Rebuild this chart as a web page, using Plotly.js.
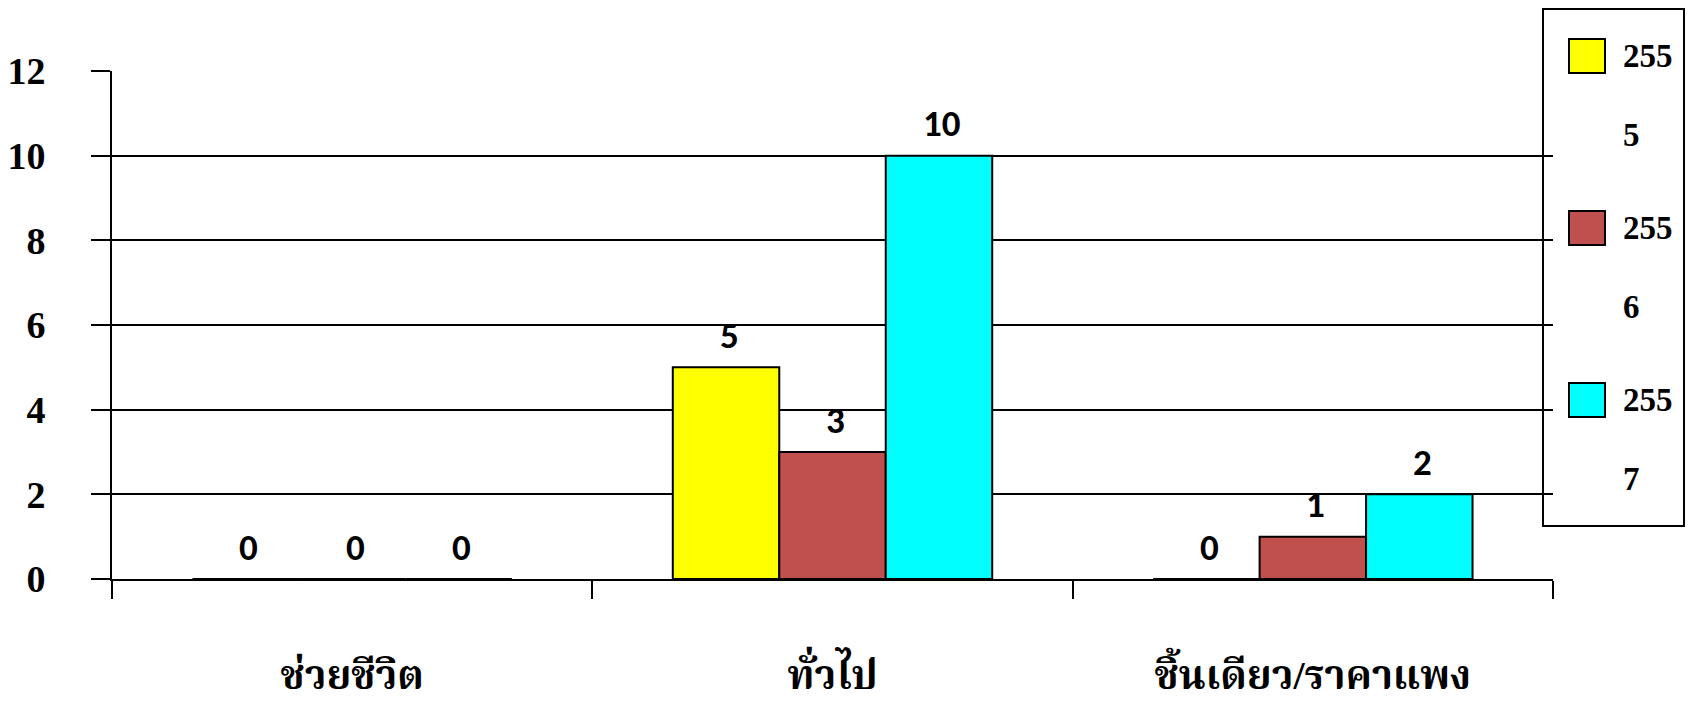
<!DOCTYPE html>
<html>
<head>
<meta charset="utf-8">
<script src="https://cdn.plot.ly/plotly-3.0.1.min.js"></script>
<style>html,body{margin:0;padding:0;background:#fff;}#chart{width:1689px;height:707px;}</style>
</head>
<body>
<div id="chart"></div>
<script>
// ---- data ----
const categories = ["ช่วยชีวิต", "ทั่วไป", "ชิ้นเดียว/ราคาแพง"];
const seriesNames = ["2555", "2556", "2557"];
const values2555 = [0, 5, 0];
const values2556 = [0, 3, 1];
const values2557 = [0, 10, 2];
const yTicks = [0, 2, 4, 6, 8, 10, 12];

// ---- style ----
const colors = ["#FFFF00", "#C0504D", "#00FFFF"];
const W = 1689, H = 707;
const M = {l: 112, r: 136, t: 71, b: 128};
const plotW = W - M.l - M.r, plotH = H - M.t - M.b;
const bargap = 0.335;
const serif = "Liberation Serif, Times New Roman, Noto Serif Thai, serif";
const sans = "Carlito, Calibri, Liberation Sans, Arial, sans-serif";

const allValues = [values2555, values2556, values2557];
const traces = allValues.map((vals, i) => ({
  type: "bar",
  name: seriesNames[i],
  x: categories,
  y: vals,
  marker: {color: colors[i], line: {color: "#000", width: 2}},
  hoverinfo: "none"
}));

// data labels as annotations above each bar
const catW = plotW / categories.length;
const barW = catW * (1 - bargap) / seriesNames.length;
const annotations = [];
allValues.forEach((vals, i) => {
  vals.forEach((v, j) => {
    annotations.push({
      x: categories[j], y: v, xref: "x", yref: "y",
      text: "<b>" + v + "</b>", showarrow: false,
      xshift: (i - (seriesNames.length - 1) / 2) * barW + 3,
      yshift: 32, yanchor: "middle", xanchor: "center",
      font: {family: sans, size: 37, color: "#000"}
    });
  });
});

// manual legend
const px2x = px => (px - M.l) / plotW;
const py2y = py => (H - M.b - py) / plotH;
const shapes = [{
  type: "rect", xref: "paper", yref: "paper",
  x0: px2x(1543), x1: px2x(1684), y0: py2y(526), y1: py2y(9),
  line: {color: "#000", width: 2}, fillcolor: "rgba(0,0,0,0)", layer: "above"
}];
seriesNames.forEach((name, i) => {
  const top = 39 + i * 172;
  shapes.push({
    type: "rect", xref: "paper", yref: "paper",
    x0: px2x(1569), x1: px2x(1605), y0: py2y(top + 34), y1: py2y(top),
    line: {color: "#000", width: 2}, fillcolor: colors[i], layer: "above"
  });
  annotations.push({
    xref: "paper", yref: "paper", x: px2x(1621), y: py2y(top + 17),
    xanchor: "left", yanchor: "middle", showarrow: false,
    text: "<b>" + name.slice(0, 3) + "</b>",
    font: {family: serif, size: 33, color: "#000"}
  });
  annotations.push({
    xref: "paper", yref: "paper", x: px2x(1621), y: py2y(top + 96),
    xanchor: "left", yanchor: "middle", showarrow: false,
    text: "<b>" + name.slice(3) + "</b>",
    font: {family: serif, size: 33, color: "#000"}
  });
});

const layout = {
  width: W, height: H,
  margin: M,
  paper_bgcolor: "#fff", plot_bgcolor: "#fff",
  barmode: "group", bargap: bargap, bargroupgap: 0,
  showlegend: false,
  xaxis: {
    type: "category",
    showline: true, linecolor: "#000", linewidth: 2,
    ticks: "outside", ticklen: 18, tickwidth: 2, tickcolor: "#000",
    tickson: "boundaries",
    showgrid: false, zeroline: false,
    ticklabelstandoff: 60,
    tickfont: {family: serif, size: 40, color: "#000", weight: "bold"}
  },
  yaxis: {
    range: [0, 12], tickvals: yTicks, ticktext: yTicks.map(String),
    showline: true, linecolor: "#000", linewidth: 2,
    ticks: "outside", ticklen: 19, tickwidth: 2, tickcolor: "#000",
    showgrid: true, gridcolor: "#000", gridwidth: 2,
    zeroline: false,
    ticklabelstandoff: 38,
    tickfont: {family: serif, size: 38, color: "#000", weight: "bold"}
  },
  annotations: annotations,
  shapes: shapes
};

Plotly.newPlot("chart", traces, layout, {staticPlot: true, displayModeBar: false});
</script>
</body>
</html>
